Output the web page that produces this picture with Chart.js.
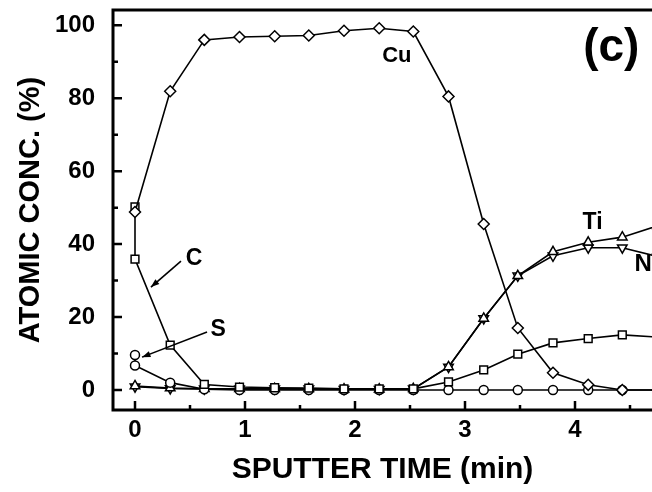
<!DOCTYPE html>
<html>
<head>
<meta charset="utf-8">
<script src="https://cdn.jsdelivr.net/npm/chart.js@4.4.1/dist/chart.umd.min.js"></script>
<style>
  html, body { margin: 0; padding: 0; background: #fff; overflow: hidden; }
</style>
</head>
<body>
<canvas id="depthChart" width="652" height="492"></canvas>
<script>
// sputter time (min) of each AES measurement
const timeMin = [0, 0.32, 0.63, 0.95, 1.27, 1.58, 1.9, 2.22, 2.53, 2.85, 3.17, 3.48, 3.8, 4.12, 4.43, 4.75];
// C and S have an extra as-received reading at t = 0
const timeCS = [0, 0, 0.32, 0.63, 0.95, 1.27, 1.58, 1.9, 2.22, 2.53, 2.85, 3.17, 3.48, 3.8, 4.12, 4.43, 4.75];

// atomic concentration (%)
const cuConc = [48.8, 81.9, 96, 96.8, 97, 97.2, 98.5, 99.2, 98.3, 80.5, 45.5, 17, 4.7, 1.4, 0, 0];
const tiConc = [1.1, 0.5, 0.3, 0.3, 0.3, 0.3, 0.2, 0.2, 0.3, 6.3, 19.6, 31.3, 37.9, 40.5, 41.9, 45];
const nConc  = [0.9, 0.4, 0.3, 0.3, 0.3, 0.3, 0.2, 0.2, 0.3, 6.3, 19.6, 31.3, 36.8, 39, 39, 36.6];
const cConc  = [50.2, 35.9, 12.3, 1.5, 0.8, 0.6, 0.5, 0.3, 0.3, 0.3, 2.2, 5.5, 9.8, 12.9, 14.1, 15.1, 14.5];
const sConc  = [9.6, 6.7, 2, 0.2, 0, 0, 0, 0, 0, 0, 0, 0, 0, 0, 0, 0, 0];

// axis ticks
const xMajor = [0, 1, 2, 3, 4];
const xMinor = [0.5, 1.5, 2.5, 3.5, 4.5];
const yMajor = [0, 20, 40, 60, 80, 100];
const yMinor = [10, 30, 50, 70, 90];

const FONT = '"Liberation Sans", Arial, Helvetica, sans-serif';

function pts(xs, ys) {
  return ys.map((v, i) => ({x: xs[i], y: v}));
}

function series(data, style, radius, rotation) {
  return {
    data: data,
    showLine: true,
    borderColor: '#000',
    borderWidth: 1.6,
    pointStyle: style,
    pointRadius: radius,
    pointRotation: rotation || 0,
    pointBackgroundColor: '#fff',
    pointBorderColor: '#000',
    pointBorderWidth: 1.5,
    tension: 0
  };
}

// text labels and arrows, placed in data units
const notes = [
  {text: 'Cu', x: 2.38, y: 91.5, size: 22},
  {text: 'C', x: 0.536, y: 35.9, size: 23},
  {text: 'S', x: 0.755, y: 16.4, size: 23},
  {text: 'Ti', x: 4.16, y: 46, size: 23},
  {text: 'N', x: 4.62, y: 34.5, size: 24},
  {text: '(c)', x: 4.33, y: 93.7, size: 46}
];
const arrows = [
  {x0: 0.418, y0: 35.3, x1: 0.145, y1: 28.2},
  {x0: 0.655, y0: 15.9, x1: 0.064, y1: 9.0}
];

const frameAndNotes = {
  id: 'frameAndNotes',
  afterDatasetsDraw(chart) {
    const {ctx, chartArea: a, scales: {x, y}} = chart;
    ctx.save();
    ctx.strokeStyle = '#000';
    ctx.fillStyle = '#000';

    // frame (left, top, bottom; right side runs off the picture)
    ctx.lineWidth = 3;
    ctx.beginPath();
    ctx.moveTo(chart.width, a.top);
    ctx.lineTo(a.left, a.top);
    ctx.lineTo(a.left, a.bottom);
    ctx.lineTo(chart.width, a.bottom);
    ctx.stroke();

    // inward ticks
    ctx.lineWidth = 2.5;
    ctx.beginPath();
    xMajor.forEach(v => { const px = x.getPixelForValue(v); ctx.moveTo(px, a.bottom); ctx.lineTo(px, a.bottom - 9); });
    xMinor.forEach(v => { const px = x.getPixelForValue(v); ctx.moveTo(px, a.bottom); ctx.lineTo(px, a.bottom - 5); });
    yMajor.forEach(v => { const py = y.getPixelForValue(v); ctx.moveTo(a.left, py); ctx.lineTo(a.left + 9, py); });
    yMinor.forEach(v => { const py = y.getPixelForValue(v); ctx.moveTo(a.left, py); ctx.lineTo(a.left + 5, py); });
    ctx.stroke();

    // arrows
    ctx.lineWidth = 1.6;
    arrows.forEach(ar => {
      const x0 = x.getPixelForValue(ar.x0), y0 = y.getPixelForValue(ar.y0);
      const x1 = x.getPixelForValue(ar.x1), y1 = y.getPixelForValue(ar.y1);
      const ang = Math.atan2(y1 - y0, x1 - x0);
      ctx.beginPath();
      ctx.moveTo(x0, y0);
      ctx.lineTo(x1, y1);
      ctx.stroke();
      ctx.beginPath();
      ctx.moveTo(x1, y1);
      ctx.lineTo(x1 - 9 * Math.cos(ang - 0.35), y1 - 9 * Math.sin(ang - 0.35));
      ctx.lineTo(x1 - 9 * Math.cos(ang + 0.35), y1 - 9 * Math.sin(ang + 0.35));
      ctx.closePath();
      ctx.fill();
    });

    // labels
    ctx.textAlign = 'center';
    ctx.textBaseline = 'middle';
    notes.forEach(n => {
      ctx.font = 'bold ' + n.size + 'px ' + FONT;
      ctx.fillText(n.text, x.getPixelForValue(n.x), y.getPixelForValue(n.y));
    });
    ctx.restore();
  }
};

new Chart('depthChart', {
  type: 'scatter',
  data: {
    datasets: [
      series(pts(timeMin, cuConc), 'rectRot', 5.5),
      series(pts(timeCS, cConc), 'rect', 5.5),
      series(pts(timeCS, sConc), 'circle', 4.5),
      series(pts(timeMin, tiConc), 'triangle', 5.5),
      series(pts(timeMin, nConc), 'triangle', 5.5, 180)
    ]
  },
  options: {
    responsive: false,
    animation: false,
    devicePixelRatio: 1,
    layout: {padding: {top: 10, left: 0, right: 0, bottom: 0}, autoPadding: false},
    plugins: {legend: {display: false}, tooltip: {enabled: false}},
    scales: {
      x: {
        type: 'linear',
        min: -0.2,
        max: 4.7,
        grid: {display: false},
        border: {display: false},
        afterBuildTicks: s => { s.ticks = xMajor.map(v => ({value: v})); },
        afterFit: s => { s.height = 82; s.paddingLeft = 0; s.paddingRight = 0; },
        ticks: {padding: 0, color: '#000', font: {family: FONT, size: 24, weight: 'bold', lineHeight: 1}},
        title: {
          display: true,
          text: 'SPUTTER TIME (min)',
          color: '#000',
          font: {family: FONT, size: 30, weight: 'bold', lineHeight: 1},
          padding: {top: 0, bottom: 7}
        }
      },
      y: {
        min: -5.5,
        max: 104.2,
        grid: {display: false},
        border: {display: false},
        afterBuildTicks: s => { s.ticks = yMajor.map(v => ({value: v})); },
        afterFit: s => { s.width = 113; s.paddingTop = 0; s.paddingBottom = 0; },
        ticks: {padding: 10, color: '#000', font: {family: FONT, size: 24, weight: 'bold'}},
        title: {
          display: true,
          text: 'ATOMIC CONC. (%)',
          color: '#000',
          font: {family: FONT, size: 29, weight: 'bold', lineHeight: 1},
          padding: {top: 16, bottom: 0}
        }
      }
    }
  },
  plugins: [frameAndNotes]
});
</script>
</body>
</html>
